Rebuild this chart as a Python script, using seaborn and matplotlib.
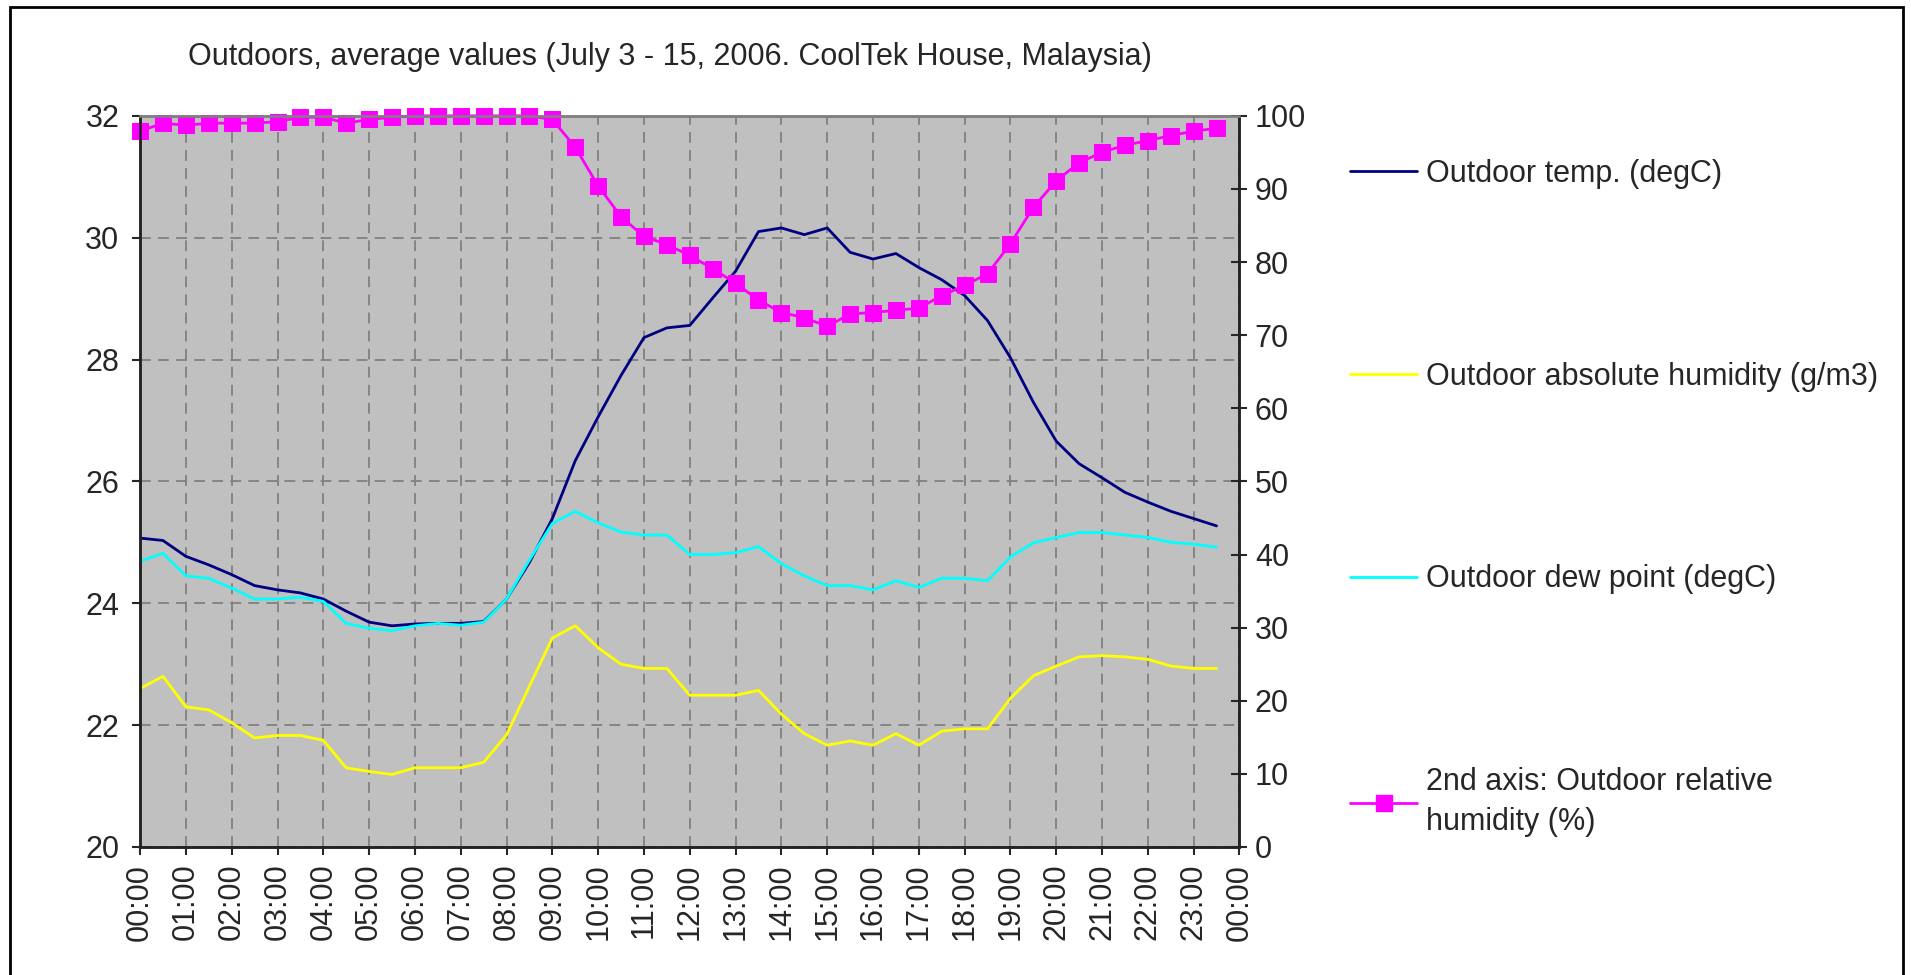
import numpy as np
import pandas as pd
import matplotlib
matplotlib.use("Agg")
import matplotlib.pyplot as plt
import seaborn as sns
from matplotlib.lines import Line2D
from matplotlib.patches import Rectangle

# half-hour readings, 00:00 .. 23:30
hours = np.arange(0, 24, 0.5)
hour_labels = [f"{h % 24:02d}:00" for h in range(25)]

temp = [25.07, 25.03, 24.77, 24.63, 24.47, 24.29, 24.22, 24.17, 24.07, 23.87, 23.69, 23.63,
        23.66, 23.67, 23.67, 23.70, 24.07, 24.67, 25.39, 26.34, 27.06, 27.74, 28.36, 28.52,
        28.56, 29.01, 29.45, 30.10, 30.16, 30.05, 30.16, 29.76, 29.65, 29.74, 29.51, 29.31,
        29.05, 28.64, 28.03, 27.30, 26.66, 26.29, 26.06, 25.82, 25.66, 25.51, 25.39, 25.27]

abs_humidity = [22.60, 22.80, 22.30, 22.25, 22.04, 21.79, 21.83, 21.83, 21.75, 21.30, 21.24, 21.19,
                21.30, 21.30, 21.30, 21.39, 21.84, 22.64, 23.43, 23.63, 23.27, 23.00, 22.93, 22.93,
                22.49, 22.49, 22.49, 22.57, 22.18, 21.86, 21.67, 21.74, 21.67, 21.86, 21.67, 21.90,
                21.94, 21.94, 22.44, 22.81, 22.97, 23.12, 23.14, 23.12, 23.08, 22.97, 22.93, 22.93]

dew_point = [24.69, 24.82, 24.45, 24.41, 24.25, 24.07, 24.07, 24.10, 24.03, 23.67, 23.59, 23.55,
             23.63, 23.67, 23.64, 23.69, 24.07, 24.71, 25.31, 25.51, 25.32, 25.17, 25.12, 25.12,
             24.80, 24.80, 24.83, 24.93, 24.65, 24.45, 24.29, 24.29, 24.22, 24.37, 24.26, 24.41,
             24.41, 24.37, 24.76, 24.99, 25.08, 25.16, 25.16, 25.12, 25.08, 25.00, 24.97, 24.92]

rel_humidity = [97.9, 99.0, 98.7, 99.0, 99.0, 99.0, 99.2, 99.8, 99.8, 99.0, 99.5, 99.8,
                100, 100, 100, 100, 100, 100, 99.5, 95.7, 90.4, 86.2, 83.5, 82.4,
                80.9, 79.1, 77.1, 74.8, 73.1, 72.4, 71.2, 72.9, 73.1, 73.4, 73.7, 75.4,
                76.8, 78.4, 82.5, 87.5, 91.1, 93.6, 95.0, 96.0, 96.6, 97.3, 97.9, 98.3]

df = pd.DataFrame({"hour": hours, "temp": temp, "abs": abs_humidity,
                   "dew": dew_point, "rh": rel_humidity})

sns.set_style("ticks")
plt.rcParams['font.family'] = ['Liberation Sans', 'DejaVu Sans']
FS = 22

fig = plt.figure(figsize=(19.11, 9.75), dpi=100)
ax = fig.add_axes([0.0733, 0.1313, 0.5753, 0.7499])
ax.set_facecolor('#C0C0C0')

sns.lineplot(data=df, x="hour", y="temp", ax=ax, color='#000080', lw=2, legend=False)
sns.lineplot(data=df, x="hour", y="abs", ax=ax, color='#FFFF00', lw=2, legend=False)
sns.lineplot(data=df, x="hour", y="dew", ax=ax, color='#00FFFF', lw=2, legend=False)

ax.set_xlim(0, 24)
ax.set_ylim(20, 32)
ax.set_yticks(range(20, 33, 2))
ax.set_xticks(range(25))
ax.set_xticklabels(hour_labels, rotation=90)
ax.set_xlabel("")
ax.set_ylabel("")
ax.grid(True, color='#808080', linestyle=(0, (6, 4)), lw=1.3)
ax.tick_params(axis='y', direction='out', length=6, width=1.5, labelsize=FS, pad=9)
ax.tick_params(axis='x', direction='out', length=6, width=1.5, labelsize=FS, pad=6)

ax2 = ax.twinx()
sns.lineplot(data=df, x="hour", y="rh", ax=ax2, color='#FF00FF', lw=2, marker='s',
             markersize=11, markeredgecolor='#FF00FF', legend=False, clip_on=False)
ax2.set_ylim(0, 100)
ax2.set_yticks(range(0, 101, 10))
ax2.set_ylabel("")
ax2.tick_params(axis='y', direction='inout', length=12, width=1.5, labelsize=FS, pad=5)

for a in (ax, ax2):
    for s in a.spines.values():
        s.set_linewidth(1.8)
        s.set_color('#222222')
    a.spines['top'].set_color('#808080')

fig.text(670 / 1911, 1 - 57 / 975,
         "Outdoors, average values (July 3 - 15, 2006. CoolTek House, Malaysia)",
         ha='center', va='center', fontsize=FS)

handles = [
    Line2D([], [], color='#000080', lw=2),
    Line2D([], [], color='#FFFF00', lw=2),
    Line2D([], [], color='#00FFFF', lw=2),
    Line2D([], [], color='#FF00FF', lw=2, marker='s', markersize=11),
]
labels = ["Outdoor temp. (degC)", "Outdoor absolute humidity (g/m3)",
          "Outdoor dew point (degC)", "2nd axis: Outdoor relative\nhumidity (%)"]
leg = fig.legend(handles, labels, loc='upper left', bbox_to_anchor=(1350 / 1911, 1 - 159 / 975),
                 frameon=False, fontsize=FS, handlelength=2.2, handletextpad=0.3,
                 labelspacing=5.65, borderaxespad=0, borderpad=0)
for t in leg.get_texts():
    t.set_linespacing(1.45)

fig.patches.append(Rectangle((10 / 1911, -0.05), (1903 - 10) / 1911, 1.05 - 7 / 975,
                             transform=fig.transFigure, fill=False, ec='black', lw=2))

fig.savefig("out.png", dpi=100)
